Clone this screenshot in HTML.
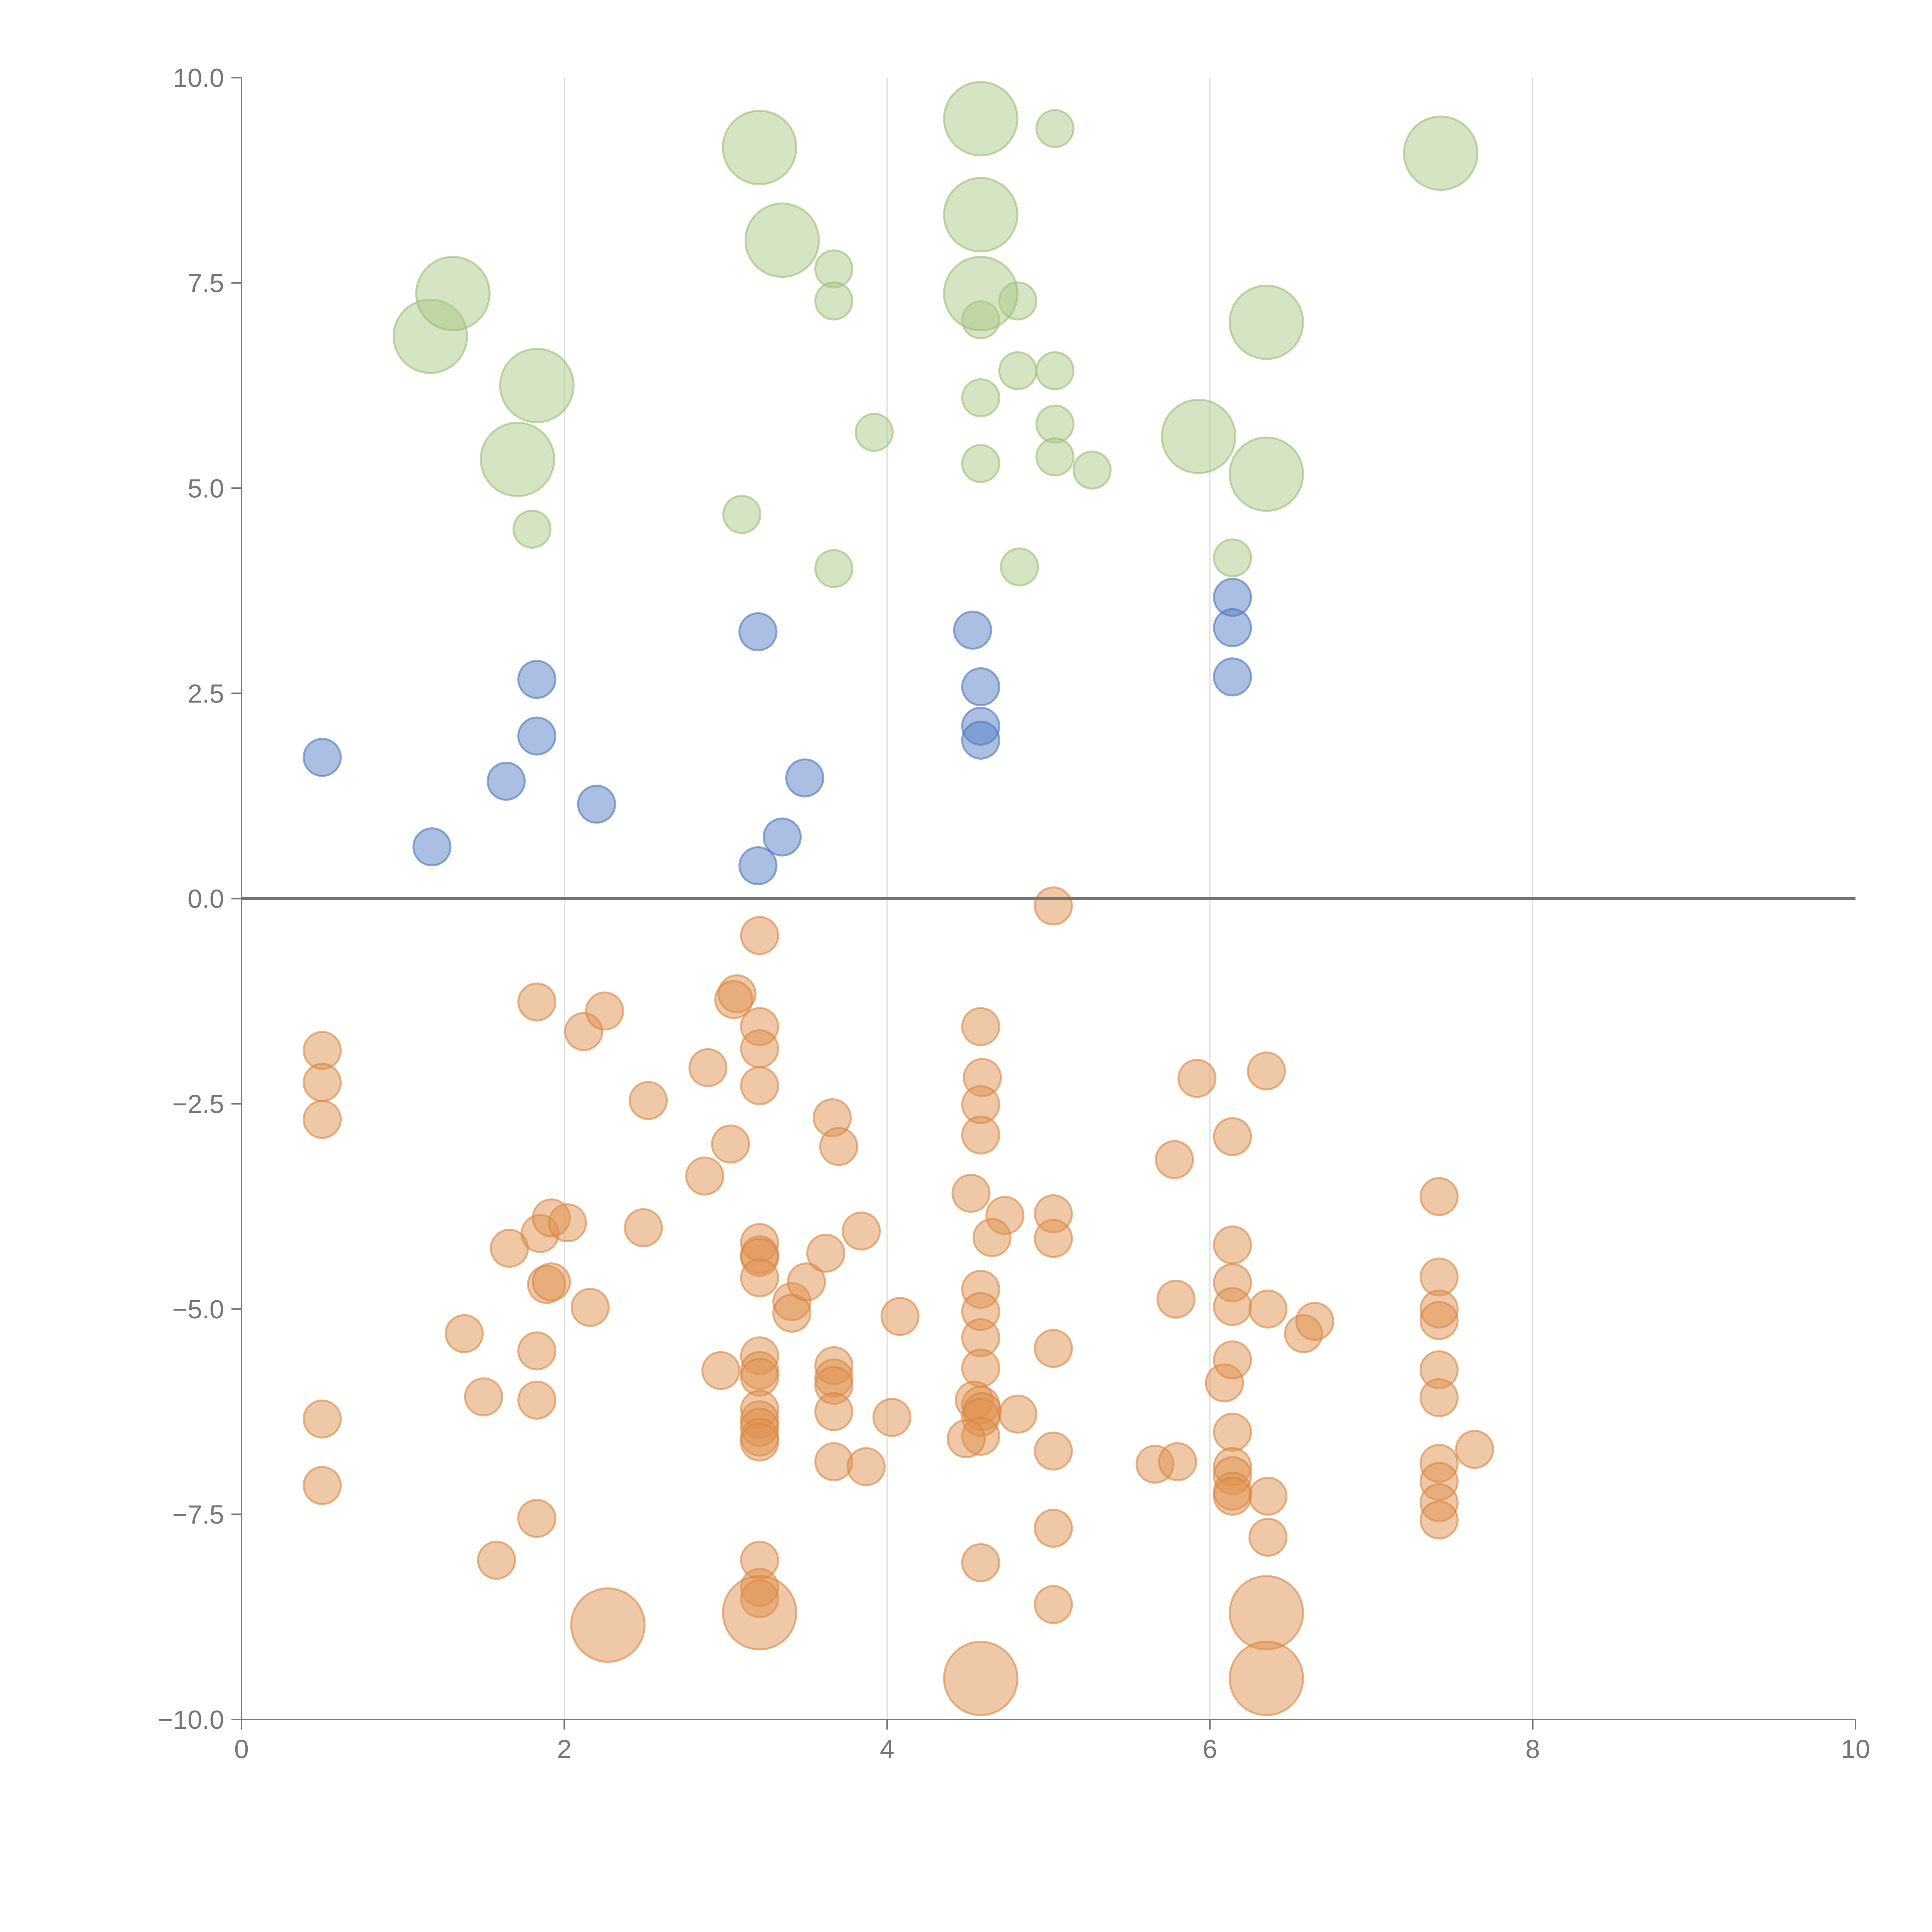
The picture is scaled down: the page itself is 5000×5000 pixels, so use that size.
<!DOCTYPE html>
<html><head><meta charset="utf-8"><style>
html,body{margin:0;padding:0;background:#fff;}
svg{display:block;}
text{font-family:"Liberation Sans",sans-serif;fill:#777;}
</style></head><body>
<svg id="chart" width="5000" height="5000" viewBox="0 0 5000 5000" xmlns="http://www.w3.org/2000/svg">
<g id="grid"></g>
<g id="marks"></g>
<g id="axes"></g>
</svg>
<script>
const xTicks = [0, 2, 4, 6, 8, 10];
const yTicks = [-10, -7.5, -5, -2.5, 0, 2.5, 5, 7.5, 10];
const yTickLabels = ["\u221210.0","\u22127.5","\u22125.0","\u22122.5","0.0","2.5","5.0","7.5","10.0"];
const greenBigX = [1.17,1.31,1.83,1.71,3.21,3.35,4.58,4.58,4.58,5.93,6.35,6.35,7.43];
const greenBigY = [6.85,7.37,6.25,5.35,9.15,8.02,9.5,8.33,7.37,5.63,7.02,5.17,9.08];
const greenX = [1.80,3.67,3.67,3.92,3.10,3.67,4.58,4.81,4.81,5.04,5.04,4.58,5.04,5.04,4.58,5.27,4.82,6.14];
const greenY = [4.5,7.67,7.28,5.68,4.68,4.02,7.05,7.28,6.43,9.38,6.43,6.1,5.78,5.38,5.3,5.22,4.04,4.15];
const blueX = [0.5,1.18,1.64,1.83,1.83,2.2,3.2,3.2,3.35,3.49,4.53,4.58,4.58,4.58,6.14,6.14,6.14];
const blueY = [1.72,0.63,1.43,2.67,1.98,1.15,3.25,0.4,0.75,1.47,3.27,2.58,2.1,1.93,3.67,3.3,2.7];
const orangeX = [0.5,0.5,0.5,0.5,0.5,1.38,1.50,1.58,1.66,1.83,1.85,1.92,1.89,1.92,2.02,1.83,1.83,1.83,2.12,2.25,2.16,2.52,2.49,2.89,2.87,3.03,2.97,3.07,3.05,
3.21,3.21,3.21,3.21,3.21,3.21,3.21,3.21,3.21,3.21,3.21,3.21,3.21,3.21,3.21,3.21,3.21,3.21,3.21,
3.41,3.41,3.50,3.62,3.66,3.70,3.67,3.67,3.67,3.67,3.67,3.84,3.87,4.08,4.03,
4.52,4.58,4.59,4.58,4.58,4.73,4.65,4.58,4.58,4.58,4.58,4.54,4.58,4.59,4.58,4.58,4.49,4.81,4.58,
5.03,5.03,5.03,5.03,5.03,5.03,5.03,5.92,5.78,5.79,5.66,5.80,6.09,
6.14,6.14,6.14,6.14,6.14,6.14,6.14,6.14,6.14,6.14,6.35,6.36,6.36,6.36,6.58,6.65,
7.42,7.42,7.42,7.42,7.42,7.42,7.42,7.42,7.42,7.42,7.64];
const orangeY = [-1.85,-2.24,-2.69,-6.34,-7.15,-5.3,-6.07,-8.06,-4.26,-1.26,-4.08,-3.89,-4.7,-4.67,-3.95,-5.51,-6.11,-7.55,-1.62,-1.37,-4.98,-2.46,-4.01,-2.06,-3.38,-2.99,-5.75,-1.16,-1.23,
-0.45,-1.56,-1.83,-2.28,-4.19,-4.34,-4.37,-4.62,-5.57,-5.75,-5.83,-6.22,-6.35,-6.44,-6.56,-6.62,-8.06,-8.39,-8.53,
-4.91,-5.05,-4.67,-4.32,-2.67,-3.02,-5.69,-5.84,-5.93,-6.25,-6.86,-4.05,-6.92,-5.09,-6.32,
-3.59,-1.56,-2.18,-2.51,-2.88,-3.86,-4.13,-4.76,-5.03,-5.35,-5.72,-6.11,-6.17,-6.25,-6.32,-6.55,-6.58,-6.28,-8.09,
-0.09,-3.84,-4.14,-5.48,-6.73,-7.67,-8.6,-2.19,-3.18,-4.88,-6.89,-6.86,-5.9,
-2.9,-4.22,-4.68,-4.97,-5.62,-6.5,-6.92,-7.03,-7.22,-7.28,-2.1,-5.0,-7.28,-7.78,-5.3,-5.15,
-3.63,-4.61,-5.0,-5.14,-5.74,-6.08,-6.88,-7.1,-7.36,-7.57,-6.71];
const orangeBigX = [2.27,3.21,4.58,6.35,6.35];
const orangeBigY = [-8.85,-8.7,-9.5,-8.7,-9.5];

const NS="http://www.w3.org/2000/svg";
const X0=625,X1=4802,Y0=4450,Y1=201;
function sx(v){return X0+(v-0)/(10-0)*(X1-X0);}
function sy(v){return Y0-(v+10)/20*(Y0-Y1);}
function mk(tag,attrs,parent){const e=document.createElementNS(NS,tag);for(const k in attrs)e.setAttribute(k,attrs[k]);parent.appendChild(e);return e;}
const grid=document.getElementById('grid'),marks=document.getElementById('marks'),axes=document.getElementById('axes');
xTicks.forEach(t=>{if(t===0||t===10)return;
 const l=mk('line',{x1:sx(t),x2:sx(t),y1:Y1,y2:Y0,stroke:'#dddddd','stroke-width':3},grid);
 
 
});
function drawSeries(xs,ys,r,fill,stroke,name){
 xs.forEach((x,i)=>{
  const c=mk('circle',{cx:sx(x),cy:sy(ys[i]),r:r,fill:fill,'fill-opacity':0.5,stroke:stroke,'stroke-opacity':0.6,'stroke-width':5},marks);
  
  
 });
}
drawSeries(greenX,greenY,48,'#abc985','#9bbd73','green-bubble');
drawSeries(greenBigX,greenBigY,95,'#abc985','#9bbd73','green-large-bubble');
drawSeries(blueX,blueY,48,'#5580c5','#4a74b8','blue-bubble');
drawSeries(orangeX,orangeY,48,'#e0914f','#d88540','orange-bubble');
drawSeries(orangeBigX,orangeBigY,95,'#e0914f','#d88540','orange-large-bubble');
let z=mk('line',{x1:X0,x2:X1,y1:sy(0),y2:sy(0),stroke:'#777','stroke-width':7},axes);


let ya=mk('line',{x1:X0,x2:X0,y1:Y1,y2:Y0,stroke:'#777','stroke-width':4},axes);


let xa=mk('line',{x1:X0,x2:X1,y1:Y0,y2:Y0,stroke:'#777','stroke-width':4},axes);


xTicks.forEach(t=>{
 const tk=mk('line',{x1:sx(t),x2:sx(t),y1:Y0,y2:Y0+26,stroke:'#777','stroke-width':4},axes);
 
 
 const tx=mk('text',{x:sx(t),y:Y0+100,'text-anchor':'middle','font-size':68},axes);
 tx.textContent=String(t);
 
 
});
yTicks.forEach((t,i)=>{
 const tk=mk('line',{x1:X0-26,x2:X0,y1:sy(t),y2:sy(t),stroke:'#777','stroke-width':4},axes);
 
 
 const tx=mk('text',{x:X0-45,y:sy(t)+24,'text-anchor':'end','font-size':68},axes);
 tx.textContent=yTickLabels[i];
 
 
});
</script>
</body></html>
